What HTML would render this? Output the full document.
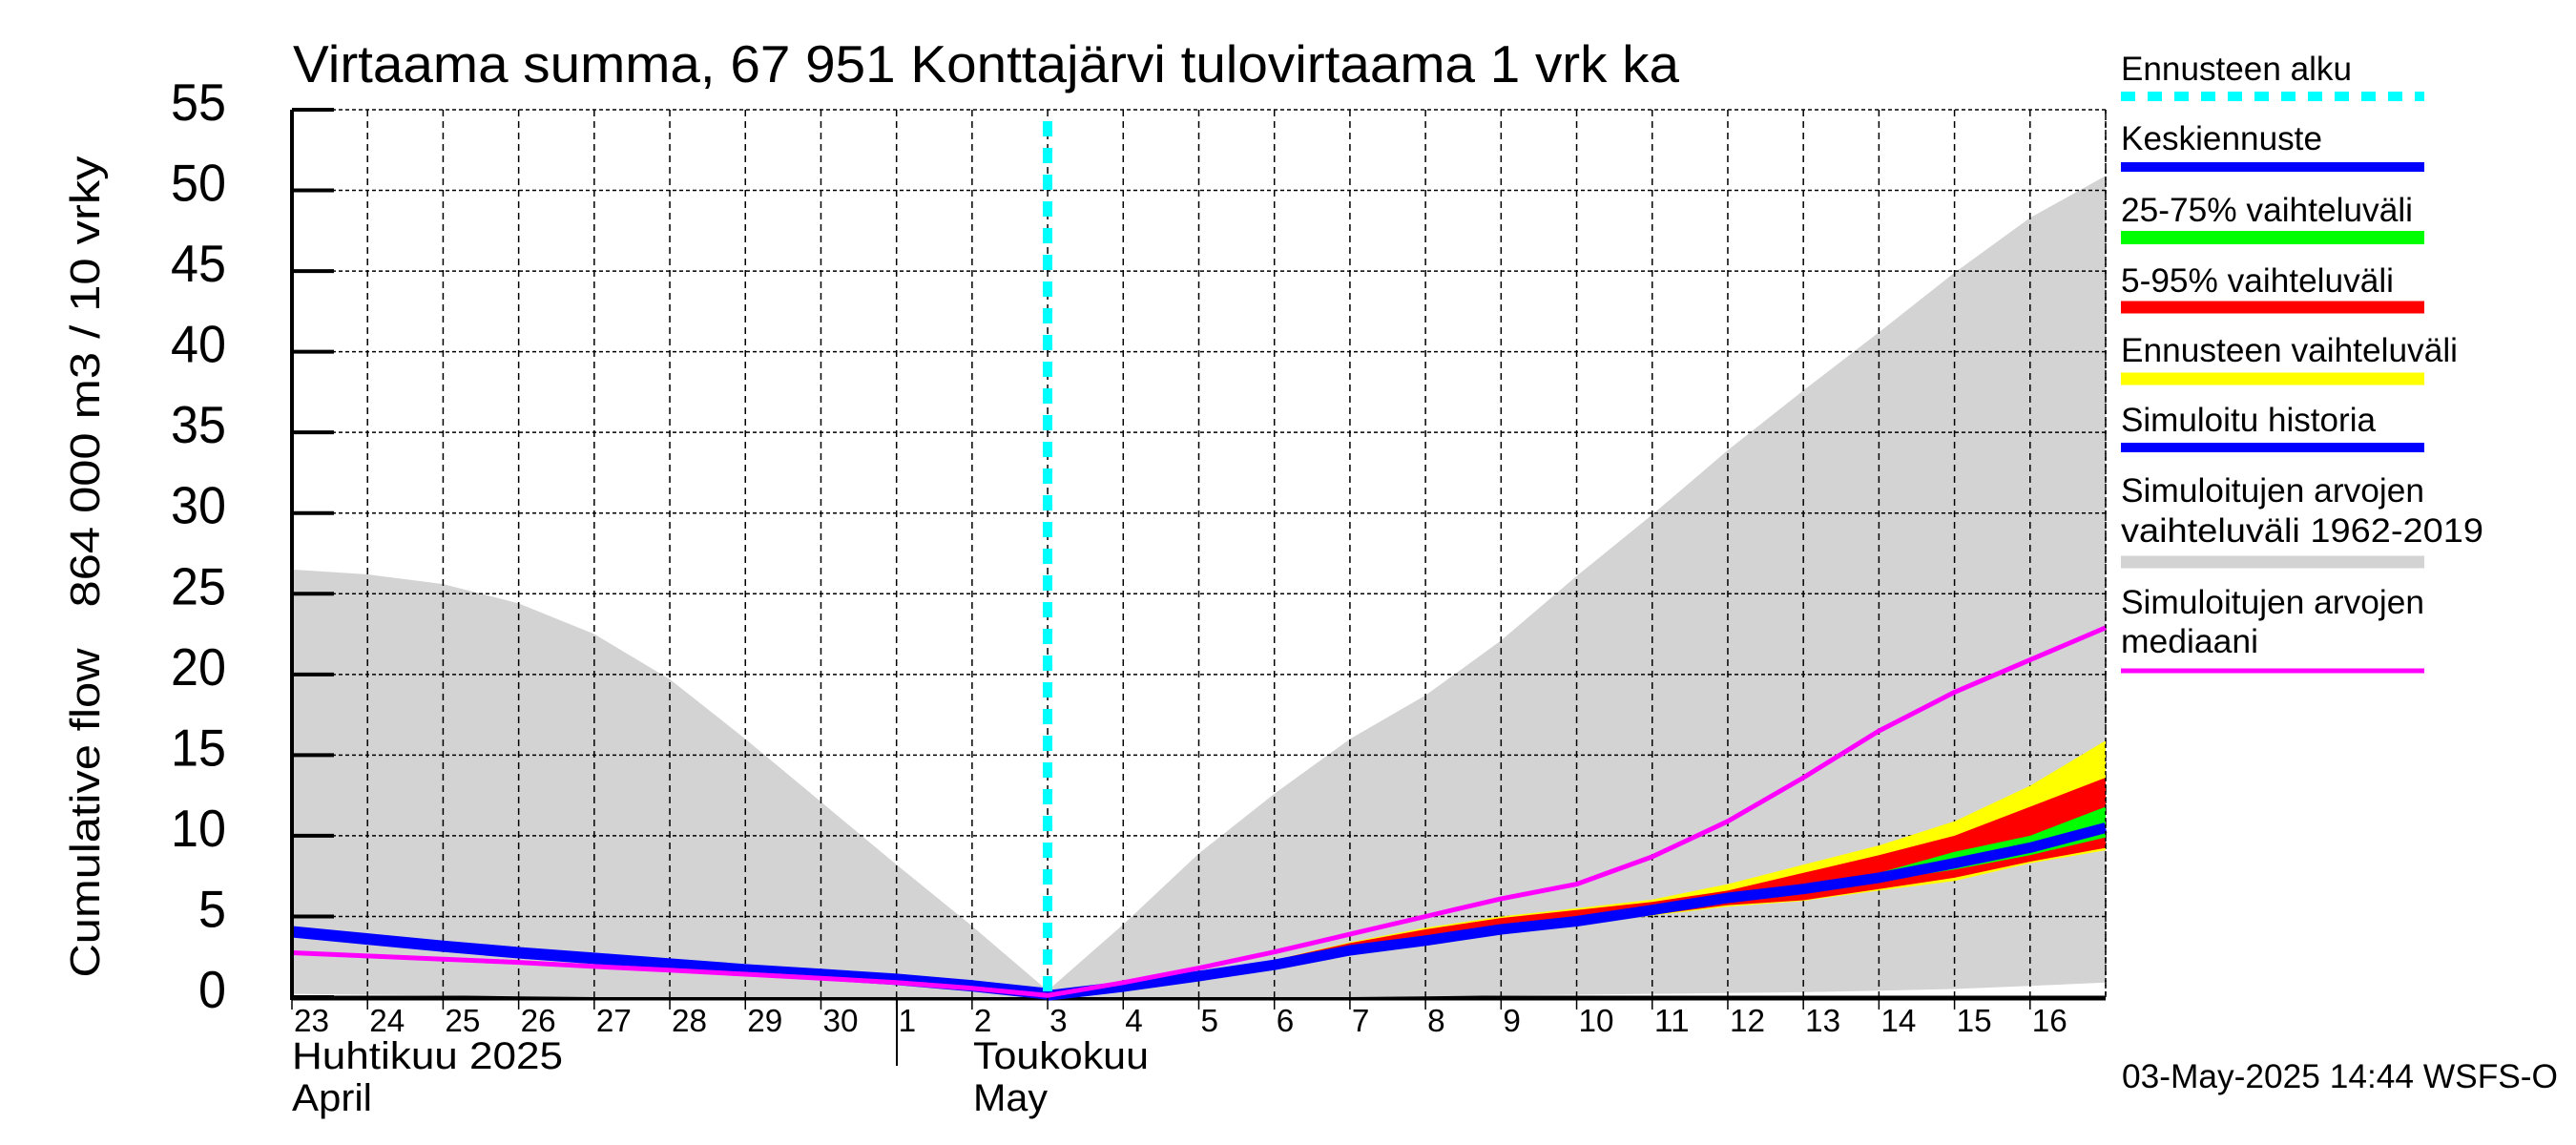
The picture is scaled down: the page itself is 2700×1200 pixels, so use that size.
<!DOCTYPE html>
<html><head><meta charset="utf-8"><style>
html,body{margin:0;padding:0;background:#fff;}
svg{display:block;font-family:"Liberation Sans",sans-serif;}
</style></head><body>
<svg id="chart" width="2700" height="1200" viewBox="0 0 2700 1200" xmlns="http://www.w3.org/2000/svg">
<rect x="0" y="0" width="2700" height="1200" fill="#fff"/>
<g id="plot"></g>
<text x="307" y="86" font-size="55" textLength="1453" lengthAdjust="spacingAndGlyphs">Virtaama summa, 67 951 Konttajärvi tulovirtaama 1 vrk ka</text>
<text transform="translate(104,852) rotate(-90)" text-anchor="middle" font-size="44" textLength="345" lengthAdjust="spacingAndGlyphs">Cumulative flow</text>
<text transform="translate(104,400) rotate(-90)" text-anchor="middle" font-size="44" textLength="473" lengthAdjust="spacingAndGlyphs">864 000 m3 / 10 vrky</text>
<text x="306" y="1120" font-size="40" textLength="284" lengthAdjust="spacingAndGlyphs">Huhtikuu  2025</text>
<text x="306" y="1164" font-size="40" textLength="84" lengthAdjust="spacingAndGlyphs">April</text>
<text x="1020" y="1120" font-size="40" textLength="184" lengthAdjust="spacingAndGlyphs">Toukokuu</text>
<text x="1020" y="1164" font-size="40" textLength="78" lengthAdjust="spacingAndGlyphs">May</text>
<line x1="940" y1="1047" x2="940" y2="1117" stroke="#000" stroke-width="2"/>
<text x="2224" y="1140" font-size="35" textLength="457" lengthAdjust="spacingAndGlyphs">03-May-2025 14:44 WSFS-O</text>
<g>
<text x="2223" y="84" font-size="35" textLength="242" lengthAdjust="spacingAndGlyphs">Ennusteen alku</text>
<line x1="2223" y1="101" x2="2541" y2="101" stroke="#00ffff" stroke-width="10" stroke-dasharray="15 13"/>
<text x="2223" y="157" font-size="35" textLength="211" lengthAdjust="spacingAndGlyphs">Keskiennuste</text>
<line x1="2223" y1="175" x2="2541" y2="175" stroke="#0000ff" stroke-width="10"/>
<text x="2223" y="232" font-size="35" textLength="306" lengthAdjust="spacingAndGlyphs">25-75% vaihteluväli</text>
<line x1="2223" y1="249" x2="2541" y2="249" stroke="#00ff00" stroke-width="14"/>
<text x="2223" y="306" font-size="35" textLength="286" lengthAdjust="spacingAndGlyphs">5-95% vaihteluväli</text>
<line x1="2223" y1="322" x2="2541" y2="322" stroke="#ff0000" stroke-width="13"/>
<text x="2223" y="379" font-size="35" textLength="353" lengthAdjust="spacingAndGlyphs">Ennusteen vaihteluväli</text>
<line x1="2223" y1="397" x2="2541" y2="397" stroke="#ffff00" stroke-width="13"/>
<text x="2223" y="452" font-size="35" textLength="267" lengthAdjust="spacingAndGlyphs">Simuloitu historia</text>
<line x1="2223" y1="469" x2="2541" y2="469" stroke="#0000ff" stroke-width="10"/>
<text x="2223" y="526" font-size="35" textLength="318" lengthAdjust="spacingAndGlyphs">Simuloitujen arvojen</text>
<text x="2223" y="568" font-size="35" textLength="380" lengthAdjust="spacingAndGlyphs">vaihteluväli 1962-2019</text>
<line x1="2223" y1="589" x2="2541" y2="589" stroke="#d3d3d3" stroke-width="13"/>
<text x="2223" y="643" font-size="35" textLength="318" lengthAdjust="spacingAndGlyphs">Simuloitujen arvojen</text>
<text x="2223" y="684" font-size="35" textLength="144" lengthAdjust="spacingAndGlyphs">mediaani</text>
<line x1="2223" y1="703" x2="2541" y2="703" stroke="#ff00ff" stroke-width="5"/>
</g>
</svg>
<script>
const dayLabels = ["23","24","25","26","27","28","29","30","1","2","3","4","5","6","7","8","9","10","11","12","13","14","15","16"];
const yTicks = [0,5,10,15,20,25,30,35,40,45,50,55];
const histUpper = [26.5,26.2,25.6,24.4,22.5,19.7,16.0,12.1,8.2,4.4,0.4,4.5,8.9,12.6,16.0,18.7,22.1,26.1,29.9,33.9,37.6,41.2,44.9,48.3,50.9];
const histLower = [0.2,0.15,0.1,0.05,0,0,0,0,0,0,0,0,0,0,0,0.05,0.1,0.15,0.2,0.25,0.3,0.4,0.5,0.7,0.9];
const simHistory = [4.05,3.6,3.15,2.75,2.4,2.05,1.7,1.4,1.1,0.7,0.2];
const medianVals = [2.75,2.55,2.35,2.15,1.9,1.67,1.42,1.17,0.9,0.55,0.1,0.9,1.8,2.8,3.9,5.0,6.1,7.0,8.7,10.9,13.6,16.5,18.9,20.9,22.9];
const fcStart = 10;
const yellowTop = [0.1,0.7,1.45,2.3,3.4,4.3,5.0,5.5,6.05,7.0,8.2,9.4,10.9,13.1,15.9];
const redTop = [0.1,0.7,1.45,2.3,3.35,4.2,4.9,5.4,5.9,6.6,7.7,8.8,10.0,11.8,13.6];
const greenTop = [0.1,0.68,1.38,2.15,3.1,3.8,4.45,4.95,5.6,6.3,7.0,7.7,9.0,10.0,11.8];
const meanFc = [0.1,0.65,1.3,2.0,2.9,3.5,4.2,4.7,5.4,6.15,6.7,7.4,8.3,9.26,10.5];
const greenBot = [0.1,0.62,1.22,1.9,2.8,3.4,4.1,4.6,5.25,5.95,6.5,7.2,7.9,8.8,9.9];
const redBot = [0.1,0.6,1.2,1.85,2.7,3.35,4.0,4.5,5.1,5.7,6.0,6.7,7.4,8.4,9.25];
const yellowBot = [0.1,0.6,1.2,1.85,2.7,3.3,3.95,4.45,5.05,5.6,5.96,6.6,7.2,8.3,9.1];

const X0 = 306, X1 = 2207, Y0 = 1045, Y55 = 115, NDAYS = 24;
function xs(i){ return X0 + (X1 - X0) * i / NDAYS; }
function ys(v){ return Y0 - (Y0 - Y55) * v / 55; }
const NS = "http://www.w3.org/2000/svg";
const plot = document.getElementById('plot');
function mk(tag, attrs, parent){
  const e = document.createElementNS(NS, tag);
  for (const k in attrs) e.setAttribute(k, attrs[k]);
  (parent || plot).appendChild(e);
  return e;
}
function bandPts(top, bot, off){
  const p = [];
  top.forEach((v,i)=>p.push(xs(i+off).toFixed(1)+','+ys(v).toFixed(1)));
  for (let i = bot.length-1; i >= 0; i--) p.push(xs(i+off).toFixed(1)+','+ys(bot[i]).toFixed(1));
  return p.join(' ');
}
function linePts(arr, off){ return arr.map((v,i)=>xs(i+off).toFixed(1)+','+ys(v).toFixed(1)).join(' '); }

let e = mk('line',{x1:X0,y1:1046,x2:X1,y2:1046,stroke:'#000','stroke-width':5});



e = mk('polygon',{points:bandPts(histUpper,histLower,0),fill:'#d3d3d3'});



yTicks.forEach(function(t){
  if (t === 0) return;
  const g = mk('line',{x1:X0,y1:ys(t),x2:X1,y2:ys(t),stroke:'#000','stroke-width':1.5,'stroke-dasharray':'4 3'});
  
  
});
for (let i = 1; i <= NDAYS; i++){
  const g = mk('line',{x1:xs(i),y1:Y55,x2:xs(i),y2:Y0,stroke:'#000','stroke-width':1.5,'stroke-dasharray':'7 5'});
  
  
}

[[yellowTop,yellowBot,'#ffff00','band-forecast-range'],[redTop,redBot,'#ff0000','band-5-95'],[greenTop,greenBot,'#00ff00','band-25-75']].forEach(function(b){
  const p = mk('polygon',{points:bandPts(b[0],b[1],fcStart),fill:b[2]});
  
  
});

e = mk('polyline',{points:linePts(simHistory,0),fill:'none',stroke:'#0000ff','stroke-width':12,'stroke-linejoin':'round'});


e = mk('polyline',{points:linePts(meanFc,fcStart),fill:'none',stroke:'#0000ff','stroke-width':11,'stroke-linejoin':'round'});


e = mk('polyline',{points:linePts(medianVals,0),fill:'none',stroke:'#ff00ff','stroke-width':5,'stroke-linejoin':'round'});



e = mk('line',{x1:1098,y1:127,x2:1098,y2:Y0,stroke:'#00ffff','stroke-width':10,'stroke-dasharray':'16 12'});



e = mk('line',{x1:X0,y1:Y55,x2:X0,y2:1048,stroke:'#000','stroke-width':4});


yTicks.forEach(function(t){
  const tk = mk('line',{x1:X0,y1:ys(t),x2:350,y2:ys(t),stroke:'#000','stroke-width':4});
  
  
  const lb = mk('text',{x:237,y:ys(t)+11,'font-size':55,'text-anchor':'end',textLength:String(t).length*29,lengthAdjust:'spacingAndGlyphs'});
  lb.textContent = String(t);
  
  
});
for (let i = 0; i < NDAYS; i++){
  const tk = mk('line',{x1:xs(i),y1:1046,x2:xs(i),y2:1058,stroke:'#000','stroke-width':1.5});
  
  
  const lb = mk('text',{x:xs(i)+2,y:1081,'font-size':33,textLength:dayLabels[i].length*18.5,lengthAdjust:'spacingAndGlyphs'});
  lb.textContent = dayLabels[i];
  
  
}
e = mk('line',{x1:X1,y1:Y55,x2:X1,y2:Y0,stroke:'#000','stroke-width':1.5,'stroke-dasharray':'4 3'});


</script>
</body></html>
